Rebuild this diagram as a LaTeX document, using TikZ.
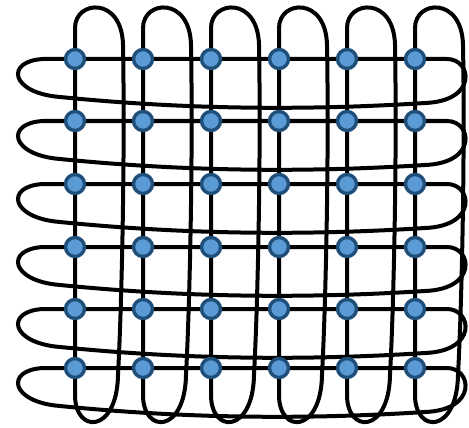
\documentclass[tikz,border=0pt]{standalone}
\usepackage{xcolor}
\usepackage{tikz}

\definecolor{dotfill}{RGB}{91,155,213}
\definecolor{dotline}{RGB}{31,78,121}

\begin{document}
\begin{tikzpicture}[
    x=1pt, y=-1pt,
    wire/.style={draw=black, line width=4pt},
    dot/.style={circle, draw=dotline, fill=dotfill, line width=3.4pt, minimum size=19pt, inner sep=0pt}
  ]
    \useasboundingbox (0,0) rectangle (469,428);

    % Horizontal loops: one per row
    \foreach \i/\y in {1/59,2/121,3/184,4/247,5/309,6/368} {
      \coordinate (rowL-\i) at (43,\y);
      \coordinate (rowR-\i) at (447,\y);
      \draw[wire] (rowL-\i) -- (rowR-\i)
        .. controls (472,\y) and (478,\y+42) .. (425,\y+44)
        .. controls (300,\y+52) and (180,\y+50) .. (60,\y+38)
        .. controls (10,\y+34) and (5,\y+2) .. cycle;
    }

    % Vertical loops: one per column
    \foreach \j/\x in {1/75,2/143,3/211,4/279,5/347,6/415} {
      \coordinate (colT-\j) at (\x,28);
      \coordinate (colB-\j) at (\x,395);
      \draw[wire] (colT-\j) -- (colB-\j)
        .. controls (\x,434) and (\x+42,434) .. (\x+43,375)
        .. controls (\x+47,300) and (\x+50,150) .. (\x+48,45)
        .. controls (\x+47,-4) and (\x,0) .. cycle;
    }

    % Grid points
    \foreach \i/\y in {1/59,2/121,3/184,4/247,5/309,6/368}
      \foreach \j/\x in {1/75,2/143,3/211,4/279,5/347,6/415}
        \node[dot] (d-\i-\j) at (\x,\y) {};

\end{tikzpicture}
\end{document}
